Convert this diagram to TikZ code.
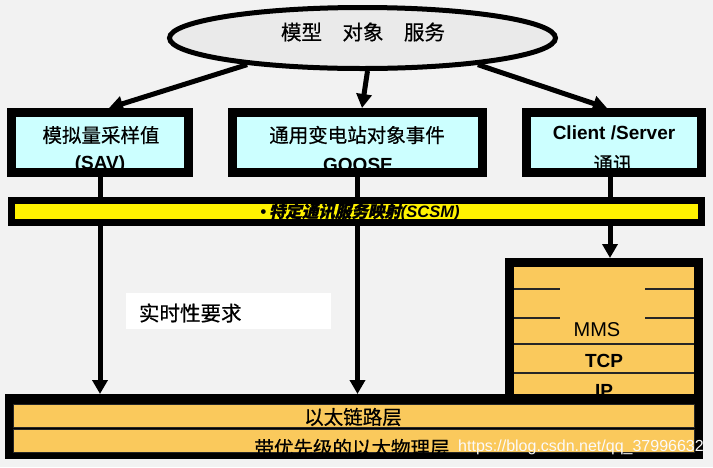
\documentclass[tikz,border=0pt]{standalone}
\usepackage{fontspec}
\setmainfont{Liberation Sans}
\newfontfamily\cjk[FakeBold=0.6]{Noto Sans CJK SC}
\newfontfamily\cjkit[FakeSlant=0.22,FakeBold=1.5]{Noto Sans CJK SC}
\usetikzlibrary{shapes.geometric,arrows.meta}
\definecolor{bgcol}{RGB}{242,242,242}
\definecolor{ellcol}{RGB}{234,234,234}
\definecolor{cyanfill}{RGB}{204,255,255}
\definecolor{layercol}{RGB}{250,201,92}
\definecolor{wmcol}{RGB}{250,250,250}
\tikzset{
  plain/.style={inner sep=0pt, outer sep=0pt},
  cbox/.style={plain, fill=cyanfill},
  frame/.style={draw=black, line width=9pt},
  layerbox/.style={plain, fill=layercol, draw=black!85, line width=0.8pt},
  blackbox/.style={plain, fill=black},
  txtcn/.style={plain, font=\cjk\fontsize{19.5}{22}\selectfont},
  txtbig/.style={plain, font=\cjk\fontsize{20.5}{24}\selectfont},
  txtbold/.style={plain, font=\bfseries\fontsize{19}{22}\selectfont},
  txtlat/.style={plain, font=\fontsize{20}{22}\selectfont},
  arr/.style={line width=5pt, -{Triangle[length=14pt,width=15pt]}},
  sepline/.style={draw=black!85, line width=1.6pt}
}
\begin{document}
\begin{tikzpicture}[x=1pt,y=-1pt]
\useasboundingbox (0,0) rectangle (713,467);
\fill[bgcol] (0,0) rectangle (713,467);

% top ellipse
\node[ellipse, draw=black, line width=5pt, fill=ellcol, inner sep=0pt,
      minimum width=386pt, minimum height=61pt] (model) at (362.5,38) {};
\node[txtbig] (modeltxt) at (363,32) {模型\hspace{1em}对象\hspace{1em}服务};

% three service boxes
\node[cbox, minimum width=177pt, minimum height=60pt] (sav) at (100,142.5) {};
\node[txtcn] (savt1) at (101,135) {模拟量采样值};
\node[txtbold] (savt2) at (100,165) {(SAV)};
\draw[frame] (sav.north west) rectangle (sav.south east);

\node[cbox, minimum width=250pt, minimum height=60pt] (goose) at (357.5,142.5) {};
\node[txtcn] (gooset1) at (357,135) {通用变电站对象事件};
\node[txtbold] (gooset2) at (358,165) {GOOSE};
\draw[frame] (goose.north west) rectangle (goose.south east);

\node[cbox, minimum width=175pt, minimum height=60pt] (cs) at (614,142.5) {};
\node[txtbold] (cst1) at (614,133) {Client /Server};
\node[txtcn] (cst2) at (613,164) {通讯};
\draw[frame] (cs.north west) rectangle (cs.south east);

% ethernet layers
\node[blackbox, minimum width=698pt, minimum height=65pt] (eth) at (354,426.5) {};
% protocol stack
\node[blackbox, minimum width=198pt, minimum height=142pt] (stack) at (604,329) {};
\node[plain, fill=layercol, minimum width=180pt, minimum height=127pt] (stackin) at (604,330.5) {};
\draw[sepline] (514,289) -- (560,289) (645,289) -- (694,289);
\draw[sepline] (514,318) -- (560,318) (645,318) -- (694,318);
\draw[sepline] (514,344) -- (694,344);
\draw[sepline] (514,373) -- (694,373);
\node[txtlat] (mms) at (597,330) {MMS};
\node[txtbold] (tcp) at (604,361) {TCP};
\begin{scope}
  \clip (514,373) rectangle (694,394);
  \node[txtbold] (ip) at (604,391) {IP};
\end{scope}
\draw[black, line width=10pt] (505,399) -- (703,399);

\node[layerbox, minimum width=681pt, minimum height=23pt] (link) at (353.5,415.5) {};
\node[layerbox, minimum width=681pt, minimum height=23pt] (phy) at (353.5,440.5) {};
\node[txtcn] (linktxt) at (353,417) {以太链路层};
\begin{scope}
  \clip (phy.south west) rectangle (phy.north east);
  \node[txtcn] (phytxt) at (352,448) {带优先级的以太物理层};
\end{scope}
\node[plain, text=wmcol, font=\fontsize{16}{18}\selectfont] (wm) at (581,447) {https://blog.csdn.net/qq\_37996632};

% real-time label
\node[plain, fill=white, minimum width=205pt, minimum height=36pt] (rt) at (228.5,311) {};
\node[txtbig, anchor=west] (rttxt) at (139,313) {实时性要求};

% arrows from model
\draw[arr] (model.193) -- ([xshift=9pt,yshift=4.5pt]sav.north);
\draw[arr] ([xshift=5pt]model.south) -- ([xshift=4.5pt,yshift=4.5pt]goose.north);
\draw[arr] (model.347) -- ([xshift=-7pt,yshift=4.5pt]cs.north);

% vertical arrows
\draw[arr] (sav.south) -- (sav.south |- eth.north);
\draw[arr] (goose.south) -- (goose.south |- eth.north);
\draw[arr] ([xshift=-4pt]cs.south) -- ([xshift=-4pt]cs.south |- stack.north);

% SCSM bar
\node[plain, fill=yellow, draw=black, line width=7pt, minimum width=690pt, minimum height=22pt] (scsm) at (356.5,211.5) {};
\node[plain, font=\bfseries\itshape\fontsize{16.5}{18}\selectfont] (scsmtxt) at (360,212)
  {•\,{\cjkit 特定通讯服务映射}(SCSM)};
\end{tikzpicture}
\end{document}
